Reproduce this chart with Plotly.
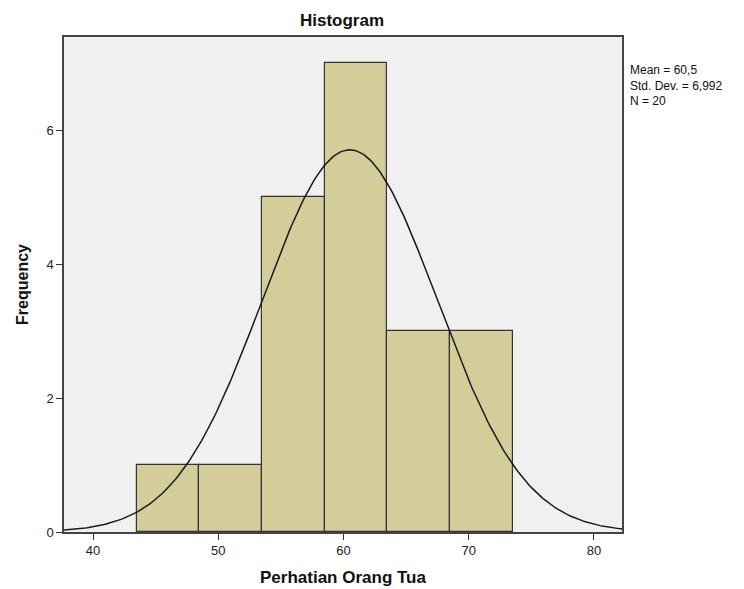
import numpy as np
import plotly.graph_objects as go

bin_centers = [46, 51, 56, 61, 66, 71]
counts = [1, 1, 5, 7, 3, 3]
bin_width = 5
mean_val = 60.5
std_val = 6.992
n_val = 20
x_ticks = [40, 50, 60, 70, 80]
y_ticks = [0, 2, 4, 6]

FONT = "Liberation Sans, Arial, sans-serif"

fig = go.Figure()
fig.add_trace(go.Bar(
    x=bin_centers, y=counts, width=[bin_width] * len(counts),
    marker=dict(color="#D3CE99", line=dict(color="#333333", width=1.2)),
    hoverinfo="x+y", showlegend=False,
))

# fitted normal curve from stated mean / std dev
xs = np.linspace(37.6, 82.3, 300)
ys = n_val * bin_width / (std_val * np.sqrt(2 * np.pi)) * np.exp(-0.5 * ((xs - mean_val) / std_val) ** 2)
fig.add_trace(go.Scatter(x=xs, y=ys, mode="lines",
                         line=dict(color="#1a1a1a", width=1.5),
                         showlegend=False, hoverinfo="skip"))

fig.update_layout(
    width=744, height=589,
    margin=dict(l=56, r=130, t=29, b=65, autoexpand=False),
    paper_bgcolor="white", plot_bgcolor="#F0F0F0",
    font=dict(family=FONT, color="#222222"),
    bargap=0,
    title=dict(text="<b>Histogram</b>", x=334 / 744, xanchor="center",
               y=1 - 12 / 589, yanchor="middle", automargin=False,
               font=dict(size=17, color="#111111", family=FONT)),
    xaxis=dict(range=[37.68, 82.24], tickvals=x_ticks, ticks="outside", ticklen=6,
               tickcolor="#333333", showgrid=False, zeroline=False, automargin=False,
               showline=True, linecolor="#444444", linewidth=1.5, mirror=True,
               tickfont=dict(size=13, color="#222222"),
               title=dict(text="<b>Perhatian Orang Tua</b>", font=dict(size=17, color="#111111"), standoff=14)),
    yaxis=dict(range=[0, 7.39], tickvals=y_ticks, ticks="outside", ticklen=6,
               tickcolor="#333333", showgrid=False, zeroline=False, automargin=False,
               showline=True, linecolor="#444444", linewidth=1.5, mirror=True,
               tickfont=dict(size=13, color="#222222"),
               title=dict(text="<b>Frequency</b>", font=dict(size=16, color="#111111"), standoff=14)),
)

fig.add_annotation(
    text="Mean = 60,5<br>Std. Dev. = 6,992<br>N = 20",
    xref="paper", yref="paper", x=1 + 6 / 558, y=1 - 24 / 495,
    xanchor="left", yanchor="top", align="left", showarrow=False,
    font=dict(size=12, color="#111111", family=FONT),
)

fig.write_html("out.html")
